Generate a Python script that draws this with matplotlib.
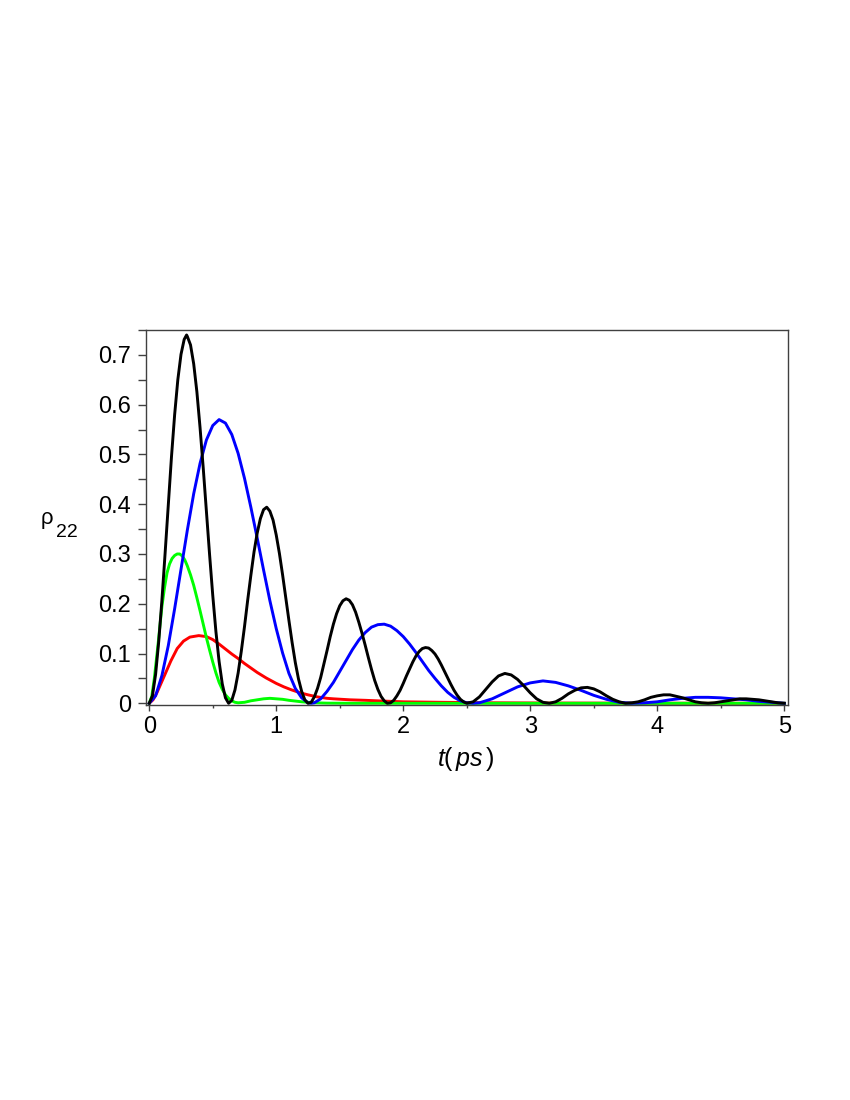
import matplotlib
matplotlib.use("Agg")
import matplotlib.pyplot as plt
from matplotlib.ticker import MultipleLocator

plt.rcParams['font.family'] = ['Liberation Sans', 'DejaVu Sans']
plt.rcParams['mathtext.fontset'] = 'custom'
plt.rcParams['mathtext.rm'] = 'Liberation Sans'
plt.rcParams['mathtext.it'] = 'Liberation Sans:italic'

# black curve
black_t = [0.000, 0.025, 0.050, 0.075, 0.100, 0.125, 0.150, 0.175, 0.200, 0.225, 0.250, 0.275,
           0.294, 0.300, 0.325, 0.350, 0.375, 0.400, 0.425, 0.450, 0.475, 0.500, 0.525, 0.550,
           0.575, 0.600, 0.625, 0.650, 0.675, 0.700, 0.725, 0.750, 0.775, 0.800, 0.825, 0.850,
           0.875, 0.900, 0.925, 0.950, 0.975, 1.000, 1.025, 1.050, 1.075, 1.100, 1.125, 1.150,
           1.175, 1.200, 1.225, 1.250, 1.275, 1.300, 1.325, 1.350, 1.375, 1.400, 1.425, 1.450,
           1.475, 1.500, 1.525, 1.550, 1.575, 1.600, 1.625, 1.650, 1.675, 1.700, 1.725, 1.750,
           1.775, 1.800, 1.825, 1.850, 1.875, 1.900, 1.925, 1.950, 1.975, 2.000, 2.025, 2.050,
           2.075, 2.100, 2.125, 2.150, 2.175, 2.200, 2.225, 2.250, 2.275, 2.300, 2.325, 2.350,
           2.375, 2.400, 2.425, 2.450, 2.475,
           2.50, 2.55, 2.60, 2.65, 2.70, 2.75, 2.80, 2.85, 2.90, 2.95,
           3.00, 3.05, 3.10, 3.15, 3.20, 3.25, 3.30, 3.35, 3.40, 3.45,
           3.50, 3.55, 3.60, 3.65, 3.70, 3.75, 3.80, 3.85, 3.90, 3.95,
           4.00, 4.05, 4.10, 4.15, 4.20, 4.25, 4.30, 4.35, 4.40, 4.45,
           4.50, 4.55, 4.60, 4.65, 4.70, 4.75, 4.80, 4.85, 4.90, 4.95,
           5.00]
black_rho = [0.000, 0.015, 0.058, 0.125, 0.208, 0.302, 0.400, 0.495, 0.580, 0.650, 0.701, 0.731,
             0.740, 0.737, 0.720, 0.682, 0.626, 0.554, 0.473, 0.386, 0.299, 0.217, 0.144, 0.084,
             0.039, 0.011, 0.000, 0.006, 0.027, 0.061, 0.105, 0.154, 0.207, 0.257, 0.304, 0.342,
             0.371, 0.389, 0.394, 0.386, 0.368, 0.338, 0.301, 0.258, 0.212, 0.166, 0.122, 0.082,
             0.049, 0.024, 0.007, 0.000, 0.002, 0.013, 0.030, 0.052, 0.079, 0.106, 0.134, 0.159,
             0.180, 0.196, 0.206, 0.210, 0.207, 0.198, 0.183, 0.163, 0.141, 0.117, 0.092, 0.068,
             0.046, 0.028, 0.014, 0.005, 0.000, 0.001, 0.006, 0.015, 0.026, 0.040, 0.055, 0.069,
             0.083, 0.095, 0.104, 0.110, 0.112, 0.111, 0.106, 0.099, 0.089, 0.077, 0.064, 0.051,
             0.038, 0.026, 0.016, 0.008, 0.003,
             0.000, 0.003, 0.013, 0.028, 0.043, 0.055, 0.060, 0.057, 0.048, 0.035,
             0.021, 0.009, 0.002, 0.000, 0.003, 0.010, 0.019, 0.026, 0.031, 0.032,
             0.029, 0.023, 0.015, 0.008, 0.003, 0.000, 0.001, 0.003, 0.007, 0.012,
             0.015, 0.017, 0.017, 0.014, 0.011, 0.007, 0.003, 0.001, 0.000, 0.001,
             0.003, 0.005, 0.007, 0.009, 0.009, 0.008, 0.007, 0.005, 0.003, 0.001,
             0.000]

# blue curve
blue_t = [0.00, 0.05, 0.10, 0.15, 0.20, 0.25, 0.30, 0.35, 0.40, 0.45, 0.50, 0.55,
          0.60, 0.65, 0.70, 0.75, 0.80, 0.85, 0.90, 0.95, 1.00, 1.05, 1.10, 1.15,
          1.20, 1.25, 1.275, 1.30, 1.35, 1.40, 1.45, 1.50, 1.55, 1.60, 1.65, 1.70,
          1.75, 1.80, 1.85, 1.90, 1.95, 2.00, 2.05, 2.10, 2.15, 2.20, 2.25, 2.30,
          2.35, 2.40, 2.45, 2.50, 2.55, 2.60,
          2.70, 2.80, 2.90, 3.00, 3.10, 3.20, 3.30, 3.40, 3.50, 3.60, 3.70, 3.80, 3.90,
          4.00, 4.10, 4.20, 4.30, 4.40, 4.50, 4.60, 4.70, 4.80, 4.90, 5.00]
blue_rho = [0.000, 0.015, 0.056, 0.116, 0.190, 0.269, 0.348, 0.421, 0.482, 0.529, 0.558, 0.570,
            0.563, 0.540, 0.502, 0.452, 0.394, 0.332, 0.268, 0.206, 0.150, 0.101, 0.060, 0.030,
            0.011, 0.001, 0.000, 0.001, 0.009, 0.024, 0.042, 0.064, 0.086, 0.108, 0.127, 0.142,
            0.153, 0.158, 0.159, 0.155, 0.146, 0.134, 0.119, 0.102, 0.084, 0.066, 0.050, 0.035,
            0.022, 0.012, 0.005, 0.001, 0.000, 0.001,
            0.009, 0.021, 0.033, 0.041, 0.045, 0.042, 0.035, 0.026, 0.016, 0.008, 0.002, 0.000, 0.001,
            0.003, 0.007, 0.010, 0.012, 0.012, 0.011, 0.009, 0.007, 0.004, 0.002, 0.000]

# green curve
green_t = [0.00, 0.02, 0.04, 0.055, 0.07, 0.085, 0.10, 0.12, 0.14, 0.16, 0.18, 0.20,
           0.22, 0.24, 0.26, 0.28, 0.30, 0.325, 0.35, 0.375, 0.40, 0.425, 0.45, 0.475,
           0.50, 0.525, 0.55, 0.575, 0.60, 0.625, 0.65, 0.675, 0.70, 0.75, 0.80, 0.85,
           0.90, 0.95, 1.00, 1.05, 1.10, 1.20, 1.30, 1.40, 1.60, 2.00, 3.00, 4.00, 5.00]
green_rho = [0.000, 0.014, 0.050, 0.085, 0.120, 0.158, 0.195, 0.232, 0.262, 0.280, 0.291, 0.297,
             0.300, 0.300, 0.296, 0.288, 0.276, 0.258, 0.237, 0.212, 0.186, 0.159, 0.132, 0.107,
             0.083, 0.061, 0.042, 0.028, 0.017, 0.010, 0.005, 0.002, 0.001, 0.002, 0.005, 0.007,
             0.009, 0.010, 0.009, 0.008, 0.006, 0.003, 0.001, 0.0003, 0.0, 0.0, 0.0, 0.0, 0.0]

# red curve
red_t = [0.00, 0.03, 0.06, 0.11, 0.17, 0.22, 0.27, 0.32, 0.39, 0.45, 0.50, 0.55,
         0.60, 0.65, 0.70, 0.75, 0.80, 0.85, 0.92, 1.00, 1.06, 1.12, 1.19, 1.25,
         1.32, 1.40, 1.45, 1.58, 1.70, 1.84, 2.00, 2.30, 2.70, 3.20, 4.00, 5.00]
red_rho = [0.000, 0.007, 0.021, 0.050, 0.085, 0.110, 0.125, 0.133, 0.136, 0.134, 0.128, 0.119,
           0.109, 0.099, 0.090, 0.080, 0.071, 0.062, 0.051, 0.040, 0.033, 0.027, 0.021, 0.017,
           0.013, 0.010, 0.009, 0.007, 0.006, 0.0045, 0.003, 0.002, 0.001, 0.0005, 0.0002, 0.0]

x_ticks = [0, 1, 2, 3, 4, 5]
y_ticks = [0, 0.1, 0.2, 0.3, 0.4, 0.5, 0.6, 0.7]
y_tick_labels = ['0', '0.1', '0.2', '0.3', '0.4', '0.5', '0.6', '0.7']

fig = plt.figure(figsize=(8.5, 11), dpi=100)
ax = fig.add_axes([0.1714, 0.3591, 0.7553, 0.3409])

lw = 2.1
ax.plot(red_t, red_rho, color='#ff0000', lw=lw, solid_joinstyle='round')
ax.plot(green_t, green_rho, color='#00ff00', lw=lw, solid_joinstyle='round')
ax.plot(blue_t, blue_rho, color='#0000ff', lw=lw, solid_joinstyle='round')
ax.plot(black_t, black_rho, color='#000000', lw=lw, solid_joinstyle='round')

ax.set_xlim(-0.028, 5.027)
ax.set_ylim(-0.0034, 0.750)

ax.set_xticks(x_ticks)
ax.set_xticklabels([str(v) for v in x_ticks])
ax.xaxis.set_minor_locator(MultipleLocator(0.5))
ax.set_yticks(y_ticks)
ax.set_yticklabels(y_tick_labels)
ax.yaxis.set_minor_locator(MultipleLocator(0.05))

edge = '#404040'
for s in ax.spines.values():
    s.set_color(edge)
    s.set_linewidth(1.0)
ax.tick_params(axis='x', which='major', direction='out', length=4.5, width=1,
               color=edge, labelsize=17, pad=3.5)
ax.tick_params(axis='y', which='major', direction='out', length=6, width=1,
               color=edge, labelsize=17, pad=4.5)
ax.tick_params(axis='x', which='minor', direction='out', length=2.5, width=1, color=edge)
ax.tick_params(axis='y', which='minor', direction='out', length=5.5, width=1, color=edge)
ax.tick_params(top=False, right=False, which='both')

# y label: rho with subscript 22
fig.text(41 / 850, 1 - 524 / 1100, '\u03c1', fontsize=16, ha='left', va='baseline')
fig.text(56 / 850, 1 - 536.5 / 1100, '22', fontsize=14, ha='left', va='baseline')
# x label
fig.text(465.5 / 850, 1 - 766 / 1100, r'$t(\,ps\,)$', fontsize=18,
         ha='center', va='baseline')

fig.savefig('out.png', dpi=100)
